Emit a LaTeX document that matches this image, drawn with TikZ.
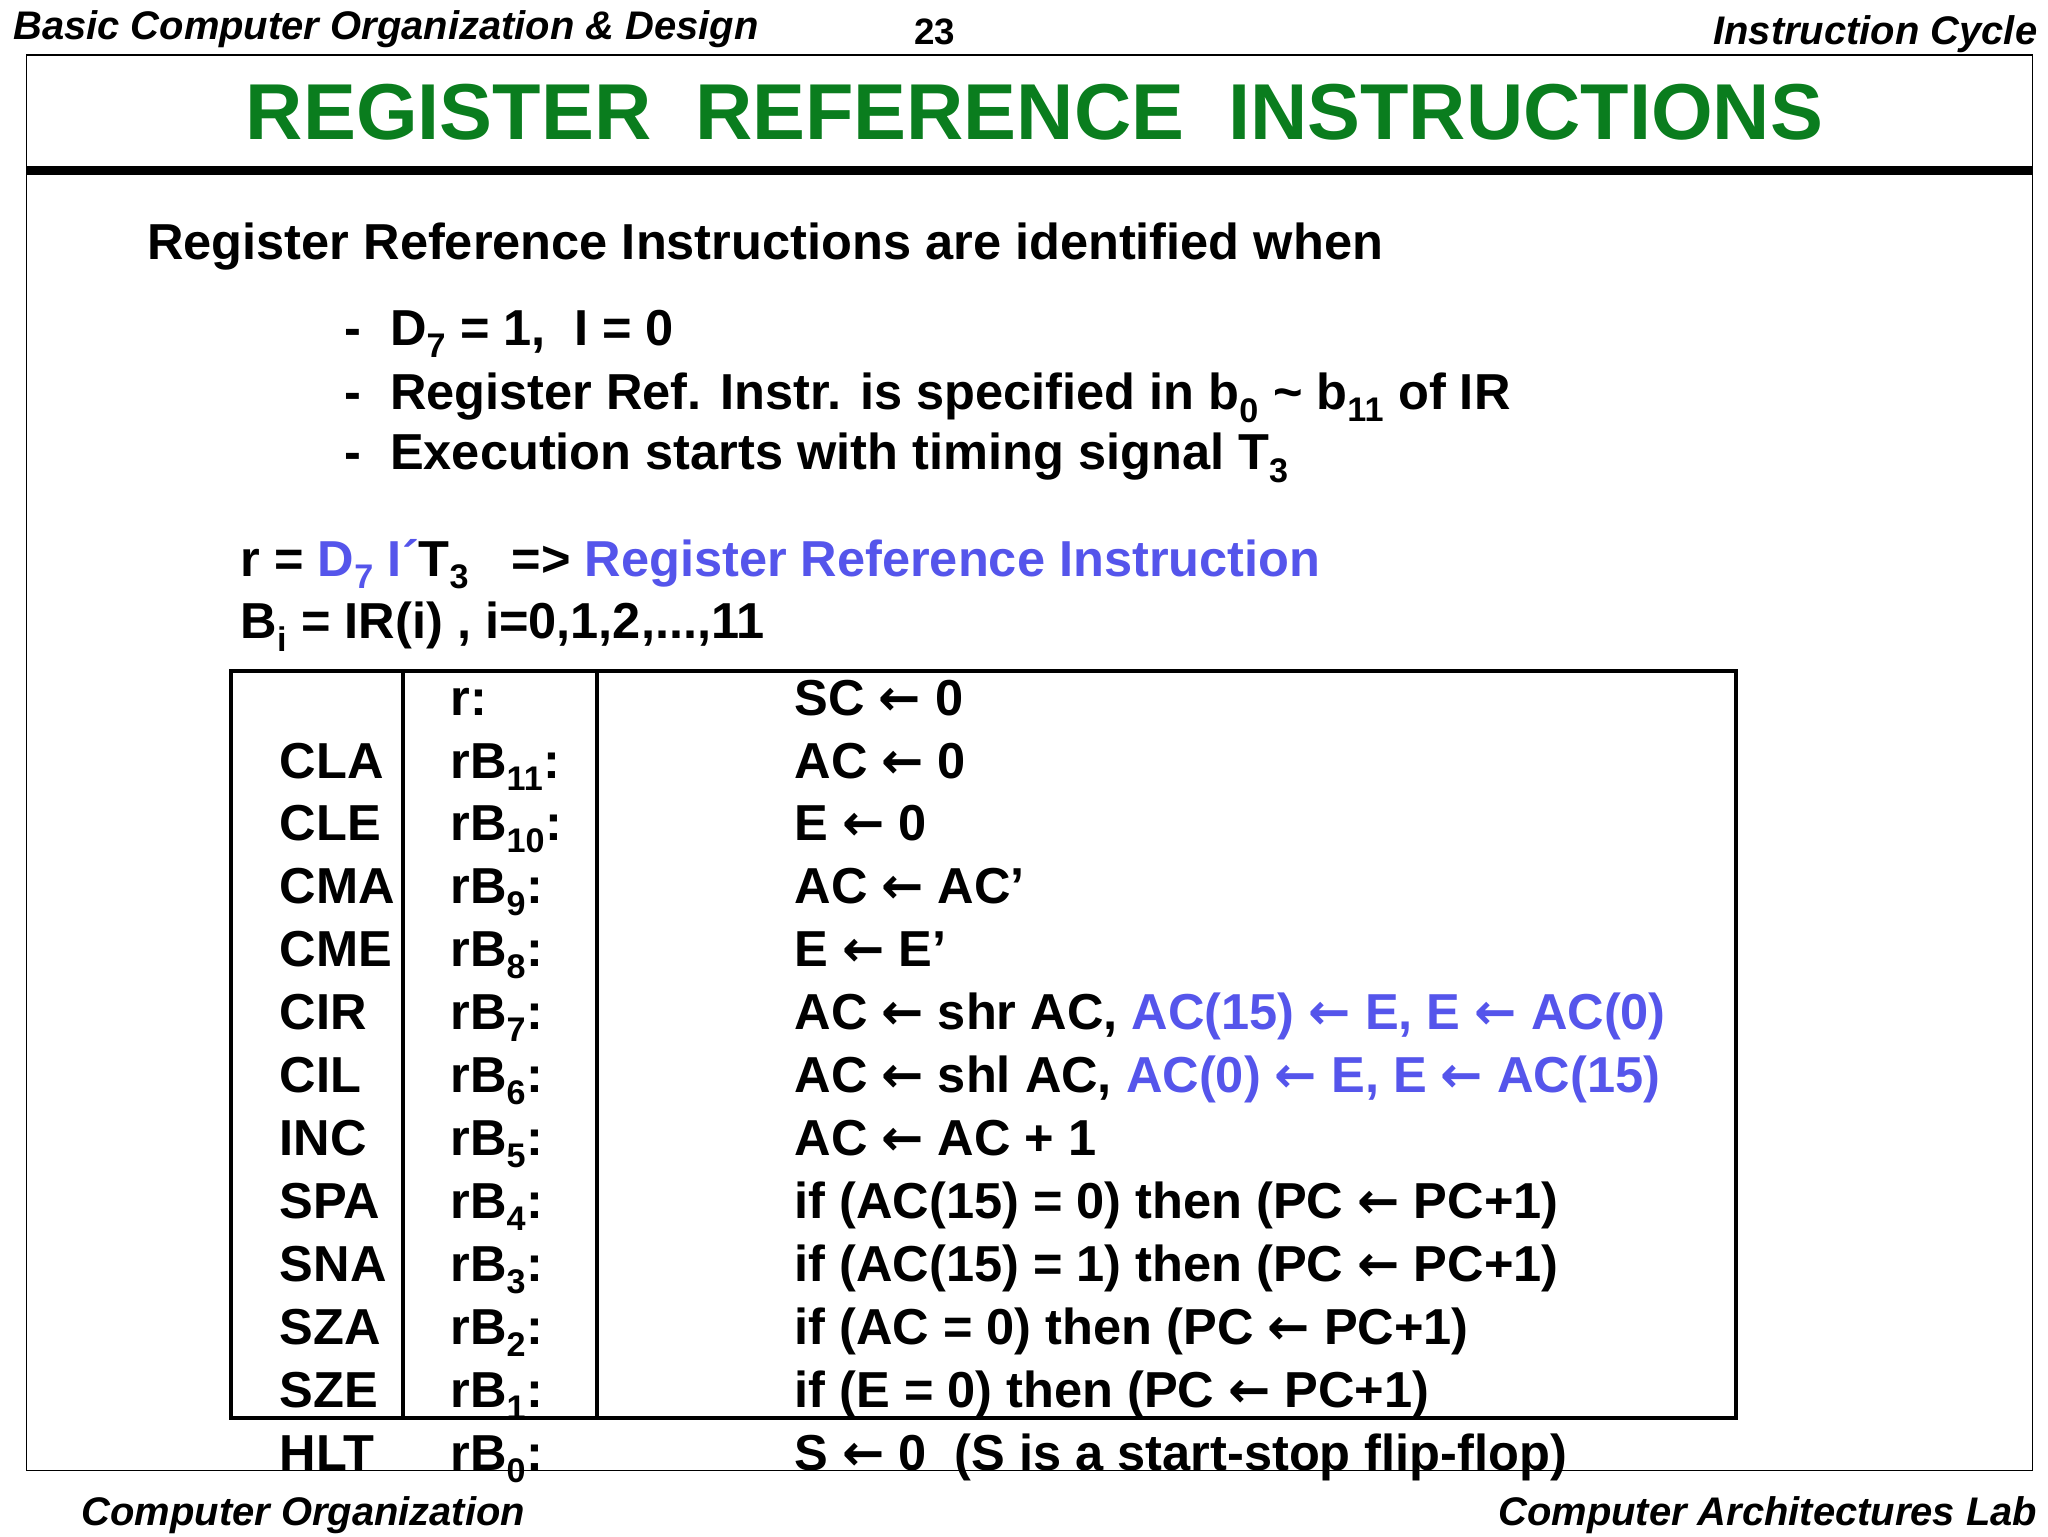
\documentclass[tikz,border=0pt]{standalone}
\usepackage{fontspec}
\setmainfont{Liberation Sans}
\newfontfamily\dv{DejaVu Sans}
\definecolor{tgreen}{RGB}{10,125,30}
\definecolor{tblue}{RGB}{85,85,235}
\newcommand{\larr}{{\dv\bfseries\char"2190}}
\newcommand{\sbs}[1]{\textsubscript{\fontsize{26}{28}\selectfont #1}}
\tikzset{
  body/.style={anchor=base west,inner sep=0pt,font=\fontsize{38.5}{44}\selectfont\bfseries},
  hdr/.style={inner sep=0pt,font=\fontsize{30.4}{32}\selectfont\bfseries\itshape},
}
\begin{document}
\begin{tikzpicture}[x=1pt,y=-1pt]
\useasboundingbox (0,0) rectangle (1560,1170);
\node[hdr,anchor=base west] (h1) at (10,30) {Basic Computer Organization \& Design};
\node[hdr,anchor=base,font=\fontsize{28}{30}\selectfont\bfseries] (h2) at (712,34) {23};
\node[hdr,anchor=base east] (h3) at (1552,34) {Instruction Cycle};
\draw[line width=1pt] (20,42) rectangle (1548,1120);
\node[anchor=base,inner sep=0pt,text=tgreen,font=\fontsize{60.4}{70}\selectfont\bfseries] (title) at (788,106) {REGISTER\ \ REFERENCE\ \ INSTRUCTIONS};
\draw[line width=7pt] (20,130) -- (1548,130);
\node[body] (intro) at (112,198) {Register Reference Instructions are identified when};
\foreach \yy/\tx [count=\i] in {263/{D\sbs{7} = 1,\ \ I = 0},312/{Register Ref. Instr. is specified in b\sbs{0} \~{} b\sbs{11} of IR},358/{Execution starts with timing signal T\sbs{3}}}{
  \node[body] (d\i) at (262,\yy) {-};
  \node[body] (b\i) at (297,\yy) {\tx};
}
\node[body] (r) at (183,439) {r = \textcolor{tblue}{D\sbs{7} I´}T\sbs{3}\ \ \ => \textcolor{tblue}{Register Reference Instruction}};
\node[body] (bi) at (183,486) {B\sbs{i} = IR(i) , i=0,1,2,...,11};
\draw[line width=3pt] (176,511) rectangle (1322,1080);
\draw[line width=3pt] (307,511) -- (307,1080) (455,511) -- (455,1080);
\foreach \yy/\a/\b/\c [count=\i] in {
545//{r:}/{SC \larr{} 0},
593/CLA/{rB\sbs{11}:}/{AC \larr{} 0},
640/CLE/{rB\sbs{10}:}/{E \larr{} 0},
688/CMA/{rB\sbs{9}:}/{AC \larr{} AC’},
736/CME/{rB\sbs{8}:}/{E \larr{} E’},
784/CIR/{rB\sbs{7}:}/{AC \larr{} shr AC, \textcolor{tblue}{AC(15) \larr{} E, E \larr{} AC(0)}},
832/CIL/{rB\sbs{6}:}/{AC \larr{} shl AC, \textcolor{tblue}{AC(0) \larr{} E, E \larr{} AC(15)}},
880/INC/{rB\sbs{5}:}/{AC \larr{} AC + 1},
928/SPA/{rB\sbs{4}:}/{if (AC(15) = 0) then (PC \larr{} PC+1)},
976/SNA/{rB\sbs{3}:}/{if (AC(15) = 1) then (PC \larr{} PC+1)},
1024/SZA/{rB\sbs{2}:}/{if (AC = 0) then (PC \larr{} PC+1)},
1072/SZE/{rB\sbs{1}:}/{if (E = 0) then (PC \larr{} PC+1)},
1120/HLT/{rB\sbs{0}:}/{S \larr{} 0\ \ (S is a start-stop flip-flop)}}{
  \node[body] (m\i) at (213,\yy) {\a};
  \node[body] (s\i) at (343,\yy) {\b};
  \node[body] (o\i) at (605,\yy) {\c};
}
\node[hdr,anchor=base west] (f1) at (62,1162) {Computer Organization};
\node[hdr,anchor=base east] (f2) at (1552,1162) {Computer Architectures Lab};
\end{tikzpicture}
\end{document}
